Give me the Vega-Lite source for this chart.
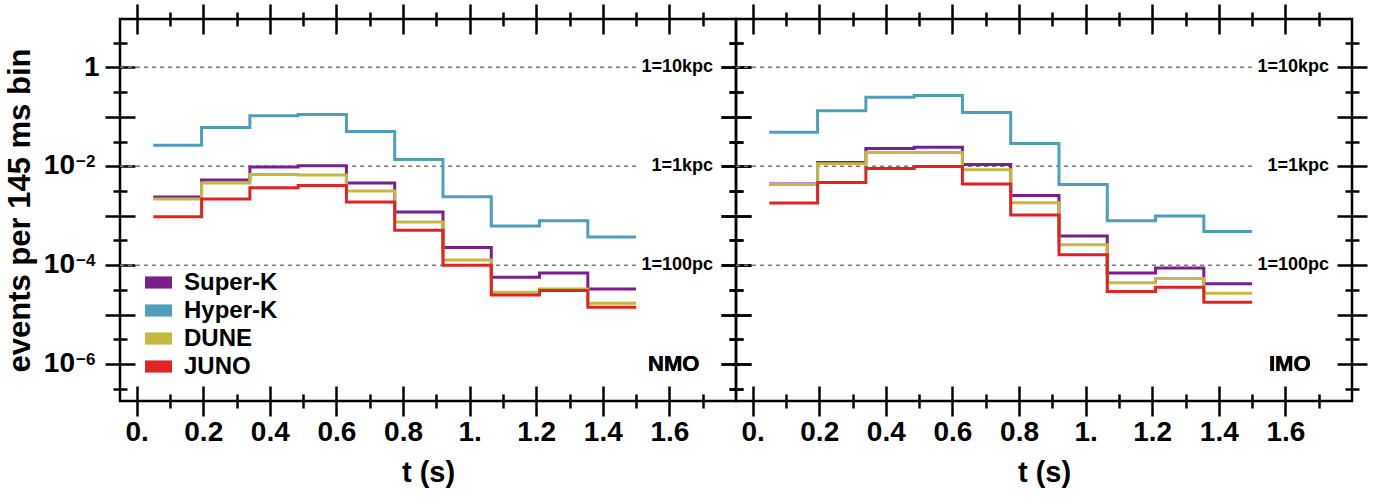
{
  "$schema": "https://vega.github.io/schema/vega-lite/v6.json",
  "padding": {"left": 3, "top": 1, "right": 0, "bottom": 0},
  "bounds": "flush",
  "spacing": 0,
  "datasets": {
    "hist": [
      {"ord": "NMO", "t": 0.05, "Super-K": 0.00239, "Hyper-K": 0.0266, "DUNE": 0.00218, "JUNO": 0.00096},
      {"ord": "NMO", "t": 0.195, "Super-K": 0.0053, "Hyper-K": 0.061, "DUNE": 0.00457, "JUNO": 0.00218},
      {"ord": "NMO", "t": 0.34, "Super-K": 0.0097, "Hyper-K": 0.105, "DUNE": 0.0068, "JUNO": 0.00368},
      {"ord": "NMO", "t": 0.485, "Super-K": 0.0102, "Hyper-K": 0.112, "DUNE": 0.0067, "JUNO": 0.0041},
      {"ord": "NMO", "t": 0.63, "Super-K": 0.0046, "Hyper-K": 0.0508, "DUNE": 0.00315, "JUNO": 0.0019},
      {"ord": "NMO", "t": 0.775, "Super-K": 0.00119, "Hyper-K": 0.0137, "DUNE": 0.00075, "JUNO": 0.00051},
      {"ord": "NMO", "t": 0.92, "Super-K": 0.000228, "Hyper-K": 0.00242, "DUNE": 0.000127, "JUNO": 0.0001},
      {"ord": "NMO", "t": 1.065, "Super-K": 0.000057, "Hyper-K": 0.00062, "DUNE": 0.0000284, "JUNO": 0.000025},
      {"ord": "NMO", "t": 1.21, "Super-K": 0.00007, "Hyper-K": 0.00079, "DUNE": 0.000033, "JUNO": 0.000031},
      {"ord": "NMO", "t": 1.355, "Super-K": 0.000033, "Hyper-K": 0.00037, "DUNE": 0.000017, "JUNO": 0.0000142},
      {"ord": "NMO", "t": 1.5, "Super-K": 0.000033, "Hyper-K": 0.00037, "DUNE": 0.000017, "JUNO": 0.0000142},
      {"ord": "IMO", "t": 0.05, "Super-K": 0.0044, "Hyper-K": 0.049, "DUNE": 0.0043, "JUNO": 0.00181},
      {"ord": "IMO", "t": 0.195, "Super-K": 0.0119, "Hyper-K": 0.133, "DUNE": 0.0112, "JUNO": 0.0047},
      {"ord": "IMO", "t": 0.34, "Super-K": 0.0228, "Hyper-K": 0.249, "DUNE": 0.019, "JUNO": 0.009},
      {"ord": "IMO", "t": 0.485, "Super-K": 0.0242, "Hyper-K": 0.27, "DUNE": 0.019, "JUNO": 0.0099},
      {"ord": "IMO", "t": 0.63, "Super-K": 0.0109, "Hyper-K": 0.123, "DUNE": 0.0085, "JUNO": 0.0044},
      {"ord": "IMO", "t": 0.775, "Super-K": 0.00258, "Hyper-K": 0.0288, "DUNE": 0.00184, "JUNO": 0.00104},
      {"ord": "IMO", "t": 0.92, "Super-K": 0.00039, "Hyper-K": 0.0043, "DUNE": 0.00026, "JUNO": 0.000163},
      {"ord": "IMO", "t": 1.065, "Super-K": 0.00007, "Hyper-K": 0.00079, "DUNE": 0.000044, "JUNO": 0.0000293},
      {"ord": "IMO", "t": 1.21, "Super-K": 0.000088, "Hyper-K": 0.00099, "DUNE": 0.000054, "JUNO": 0.0000357},
      {"ord": "IMO", "t": 1.355, "Super-K": 0.000042, "Hyper-K": 0.00048, "DUNE": 0.000027, "JUNO": 0.0000179},
      {"ord": "IMO", "t": 1.5, "Super-K": 0.000042, "Hyper-K": 0.00048, "DUNE": 0.000027, "JUNO": 0.0000179}
    ],
    "refs": [
      {"y": 1, "lab": "1=10kpc"},
      {"y": 0.01, "lab": "1=1kpc"},
      {"y": 0.0001, "lab": "1=100pc"}
    ],
    "sci": [
      {"y": 0.01, "e": "−2"},
      {"y": 0.0001, "e": "−4"},
      {"y": 0.000001, "e": "−6"}
    ]
  },
  "hconcat": [
    {
      "width": 616,
      "height": 382,
      "resolve": {"axis": {"x": "independent", "y": "independent"}},
      "layer": [
        {
          "data": {"name": "refs"},
          "mark": {"type": "rule", "strokeDash": [4, 4], "color": "#777777", "strokeWidth": 1.5},
          "encoding": {
            "x": {"datum": -0.05, "type": "quantitative", "axis": null, "scale": {"domain": [-0.05, 1.8], "nice": false, "zero": false}},
            "x2": {"datum": 1.51},
            "y": {"field": "y", "type": "quantitative", "axis": null, "scale": {"type": "log", "domain": [1.8e-7, 9.5], "nice": false}}
          }
        },
        {
          "data": {"name": "refs"},
          "mark": {"type": "text", "align": "right", "baseline": "middle", "dx": -23, "fontSize": 18, "font": "Liberation Sans", "fontWeight": "bold", "color": "black"},
          "encoding": {
            "x": {"datum": 1.8, "type": "quantitative", "axis": null},
            "y": {"field": "y", "type": "quantitative", "axis": null},
            "text": {"field": "lab"}
          }
        },
        {
          "data": {"name": "sci"},
          "mark": {"type": "text", "align": "right", "baseline": "middle", "dx": -45, "fontSize": 28, "font": "Liberation Sans", "fontWeight": "bold", "color": "black", "text": "10"},
          "encoding": {
            "x": {"datum": -0.05, "type": "quantitative", "axis": null},
            "y": {"field": "y", "type": "quantitative", "axis": null}
          }
        },
        {
          "data": {"name": "sci"},
          "mark": {"type": "text", "align": "left", "baseline": "top", "dx": -44, "dy": -12, "fontSize": 17, "font": "Liberation Sans", "fontWeight": "bold", "color": "black"},
          "encoding": {
            "x": {"datum": -0.05, "type": "quantitative", "axis": null},
            "y": {"field": "y", "type": "quantitative", "axis": null},
            "text": {"field": "e"}
          }
        },
        {
          "data": {"name": "refs"},
          "mark": {"type": "text", "align": "center", "baseline": "middle", "fontSize": 22, "font": "Liberation Sans", "fontWeight": "bold", "color": "black", "text": "NMO"},
          "encoding": {
            "x": {"datum": 1.613, "type": "quantitative", "axis": null},
            "y": {"datum": 0.000001, "type": "quantitative", "axis": null}
          }
        },
        {
          "data": {"name": "hist"},
          "transform": [
            {"filter": "datum.ord === 'NMO'"},
            {"fold": ["Super-K", "Hyper-K", "DUNE", "JUNO"], "as": ["det", "v"]}
          ],
          "mark": {"type": "line", "interpolate": "step-after", "strokeWidth": 3},
          "encoding": {
            "x": {"field": "t", "type": "quantitative", "scale": {"domain": [-0.05, 1.8], "nice": false, "zero": false},
              "axis": {"orient": "bottom", "values": [0, 0.2, 0.4, 0.6, 0.8, 1, 1.2, 1.4, 1.6], "offset": -15, "tickSize": 30,
                "labelExpr": "datum.value == 0 ? '0.' : (abs(datum.value - 1) < 0.000001 ? '1.' : format(datum.value, '.1f'))",
                "labelFontSize": 28, "labelPadding": 2, "labelFlush": false, "labelOverlap": false,
                "title": "t (s)", "titleFontSize": 29, "titlePadding": 12}},
            "y": {"field": "v", "type": "quantitative", "scale": {"type": "log", "domain": [1.8e-7, 9.5], "nice": false},
              "axis": {"orient": "left", "values": [1, 0.1, 0.01, 0.001, 0.0001, 0.00001, 0.000001], "offset": -15, "tickSize": 30,
                "labelExpr": "round(log(datum.value)/LN10) == 0 ? '1' : ''",
                "labelFontSize": 28, "labelPadding": 6, "labelFlush": false, "labelOverlap": false, "labelBaseline": "middle",
                "title": "events per 145 ms bin", "titleFontSize": 31, "titlePadding": 47}},
            "color": {"field": "det", "type": "nominal",
              "scale": {"domain": ["Super-K", "Hyper-K", "DUNE", "JUNO"], "range": ["#7b1f8c", "#4f9fbb", "#c4b843", "#e02424"]},
              "legend": {"orient": "none", "legendX": 25, "legendY": 250, "title": null,
                "symbolType": "M-1,-0.45H1V0.45H-1Z", "symbolSize": 729, "symbolStrokeWidth": 0,
                "labelFont": "Liberation Sans", "labelFontWeight": "bold", "labelFontSize": 24, "labelColor": "black",
                "labelOffset": 12, "rowPadding": 2,
                "encode": {"symbols": {"update": {"fill": {"scale": "color", "field": "value"}, "fillOpacity": {"value": 1}, "strokeWidth": {"value": 0}}}}}}
          }
        },
        {
          "data": {"name": "hist"},
          "mark": {"type": "point", "opacity": 0},
          "encoding": {
            "x": {"field": "t", "type": "quantitative", "axis": {"orient": "bottom", "values": [0.1, 0.3, 0.5, 0.7, 0.9, 1.1, 1.3, 1.5, 1.7], "offset": -7, "tickSize": 14, "labels": false, "title": null}},
            "y": {"field": "JUNO", "type": "quantitative", "axis": {"orient": "left", "values": [3.1623, 0.31623, 0.031623, 0.0031623, 0.00031623, 0.000031623, 0.0000031623, 0.00000031623], "offset": -7, "tickSize": 14, "labels": false, "title": null}}
          }
        },
        {
          "data": {"name": "hist"},
          "mark": {"type": "point", "opacity": 0},
          "encoding": {
            "x": {"field": "t", "type": "quantitative", "axis": {"orient": "top", "values": [0, 0.2, 0.4, 0.6, 0.8, 1, 1.2, 1.4, 1.6], "offset": -15, "tickSize": 30, "labels": false, "title": null}},
            "y": {"field": "JUNO", "type": "quantitative", "axis": {"orient": "right", "values": [1, 0.1, 0.01, 0.001, 0.0001, 0.00001, 0.000001], "offset": -15, "tickSize": 30, "labels": false, "title": null}}
          }
        },
        {
          "data": {"name": "hist"},
          "mark": {"type": "point", "opacity": 0},
          "encoding": {
            "x": {"field": "t", "type": "quantitative", "axis": {"orient": "top", "values": [0.1, 0.3, 0.5, 0.7, 0.9, 1.1, 1.3, 1.5, 1.7], "offset": -7, "tickSize": 14, "labels": false, "title": null}},
            "y": {"field": "JUNO", "type": "quantitative", "axis": {"orient": "right", "values": [3.1623, 0.31623, 0.031623, 0.0031623, 0.00031623, 0.000031623, 0.0000031623, 0.00000031623], "offset": -7, "tickSize": 14, "labels": false, "title": null}}
          }
        }
      ]
    },
    {
      "width": 616,
      "height": 382,
      "resolve": {"axis": {"x": "independent", "y": "independent"}},
      "layer": [
        {
          "data": {"name": "refs"},
          "mark": {"type": "rule", "strokeDash": [4, 4], "color": "#777777", "strokeWidth": 1.5},
          "encoding": {
            "x": {"datum": -0.05, "type": "quantitative", "axis": null, "scale": {"domain": [-0.05, 1.8], "nice": false, "zero": false}},
            "x2": {"datum": 1.51},
            "y": {"field": "y", "type": "quantitative", "axis": null, "scale": {"type": "log", "domain": [1.8e-7, 9.5], "nice": false}}
          }
        },
        {
          "data": {"name": "refs"},
          "mark": {"type": "text", "align": "right", "baseline": "middle", "dx": -23, "fontSize": 18, "font": "Liberation Sans", "fontWeight": "bold", "color": "black"},
          "encoding": {
            "x": {"datum": 1.8, "type": "quantitative", "axis": null},
            "y": {"field": "y", "type": "quantitative", "axis": null},
            "text": {"field": "lab"}
          }
        },
        {
          "data": {"name": "refs"},
          "mark": {"type": "text", "align": "center", "baseline": "middle", "fontSize": 22, "font": "Liberation Sans", "fontWeight": "bold", "color": "black", "text": "IMO"},
          "encoding": {
            "x": {"datum": 1.613, "type": "quantitative", "axis": null},
            "y": {"datum": 0.000001, "type": "quantitative", "axis": null}
          }
        },
        {
          "data": {"name": "hist"},
          "transform": [
            {"filter": "datum.ord === 'IMO'"},
            {"fold": ["Super-K", "Hyper-K", "DUNE", "JUNO"], "as": ["det", "v"]}
          ],
          "mark": {"type": "line", "interpolate": "step-after", "strokeWidth": 3},
          "encoding": {
            "x": {"field": "t", "type": "quantitative", "scale": {"domain": [-0.05, 1.8], "nice": false, "zero": false},
              "axis": {"orient": "bottom", "values": [0, 0.2, 0.4, 0.6, 0.8, 1, 1.2, 1.4, 1.6], "offset": -15, "tickSize": 30,
                "labelExpr": "datum.value == 0 ? '0.' : (abs(datum.value - 1) < 0.000001 ? '1.' : format(datum.value, '.1f'))",
                "labelFontSize": 28, "labelPadding": 2, "labelFlush": false, "labelOverlap": false,
                "title": "t (s)", "titleFontSize": 29, "titlePadding": 12}},
            "y": {"field": "v", "type": "quantitative", "scale": {"type": "log", "domain": [1.8e-7, 9.5], "nice": false},
              "axis": {"orient": "left", "values": [1, 0.1, 0.01, 0.001, 0.0001, 0.00001, 0.000001], "offset": -15, "tickSize": 30, "labels": false, "title": null}},
            "color": {"field": "det", "type": "nominal",
              "scale": {"domain": ["Super-K", "Hyper-K", "DUNE", "JUNO"], "range": ["#7b1f8c", "#4f9fbb", "#c4b843", "#e02424"]},
              "legend": {"orient": "none", "legendX": 25, "legendY": 250, "title": null,
                "symbolType": "M-1,-0.45H1V0.45H-1Z", "symbolSize": 729, "symbolStrokeWidth": 0,
                "labelFont": "Liberation Sans", "labelFontWeight": "bold", "labelFontSize": 24, "labelColor": "black",
                "labelOffset": 12, "rowPadding": 2,
                "encode": {"symbols": {"update": {"fill": {"scale": "color", "field": "value"}, "fillOpacity": {"value": 1}, "strokeWidth": {"value": 0}}}}}}
          }
        },
        {
          "data": {"name": "hist"},
          "mark": {"type": "point", "opacity": 0},
          "encoding": {
            "x": {"field": "t", "type": "quantitative", "axis": {"orient": "bottom", "values": [0.1, 0.3, 0.5, 0.7, 0.9, 1.1, 1.3, 1.5, 1.7], "offset": -7, "tickSize": 14, "labels": false, "title": null}},
            "y": {"field": "JUNO", "type": "quantitative", "axis": {"orient": "left", "values": [3.1623, 0.31623, 0.031623, 0.0031623, 0.00031623, 0.000031623, 0.0000031623, 0.00000031623], "offset": -7, "tickSize": 14, "labels": false, "title": null}}
          }
        },
        {
          "data": {"name": "hist"},
          "mark": {"type": "point", "opacity": 0},
          "encoding": {
            "x": {"field": "t", "type": "quantitative", "axis": {"orient": "top", "values": [0, 0.2, 0.4, 0.6, 0.8, 1, 1.2, 1.4, 1.6], "offset": -15, "tickSize": 30, "labels": false, "title": null}},
            "y": {"field": "JUNO", "type": "quantitative", "axis": {"orient": "right", "values": [1, 0.1, 0.01, 0.001, 0.0001, 0.00001, 0.000001], "offset": -15, "tickSize": 30, "labels": false, "title": null}}
          }
        },
        {
          "data": {"name": "hist"},
          "mark": {"type": "point", "opacity": 0},
          "encoding": {
            "x": {"field": "t", "type": "quantitative", "axis": {"orient": "top", "values": [0.1, 0.3, 0.5, 0.7, 0.9, 1.1, 1.3, 1.5, 1.7], "offset": -7, "tickSize": 14, "labels": false, "title": null}},
            "y": {"field": "JUNO", "type": "quantitative", "axis": {"orient": "right", "values": [3.1623, 0.31623, 0.031623, 0.0031623, 0.00031623, 0.000031623, 0.0000031623, 0.00000031623], "offset": -7, "tickSize": 14, "labels": false, "title": null}}
          }
        }
      ]
    }
  ],
  "config": {
    "view": {"stroke": "black", "strokeWidth": 2.5},
    "axis": {"tickColor": "black", "tickWidth": 2.5, "labelFont": "Liberation Sans", "labelFontWeight": "bold", "labelColor": "black",
      "titleFont": "Liberation Sans", "titleFontWeight": "bold", "titleColor": "black", "grid": false, "domain": false}
  }
}
